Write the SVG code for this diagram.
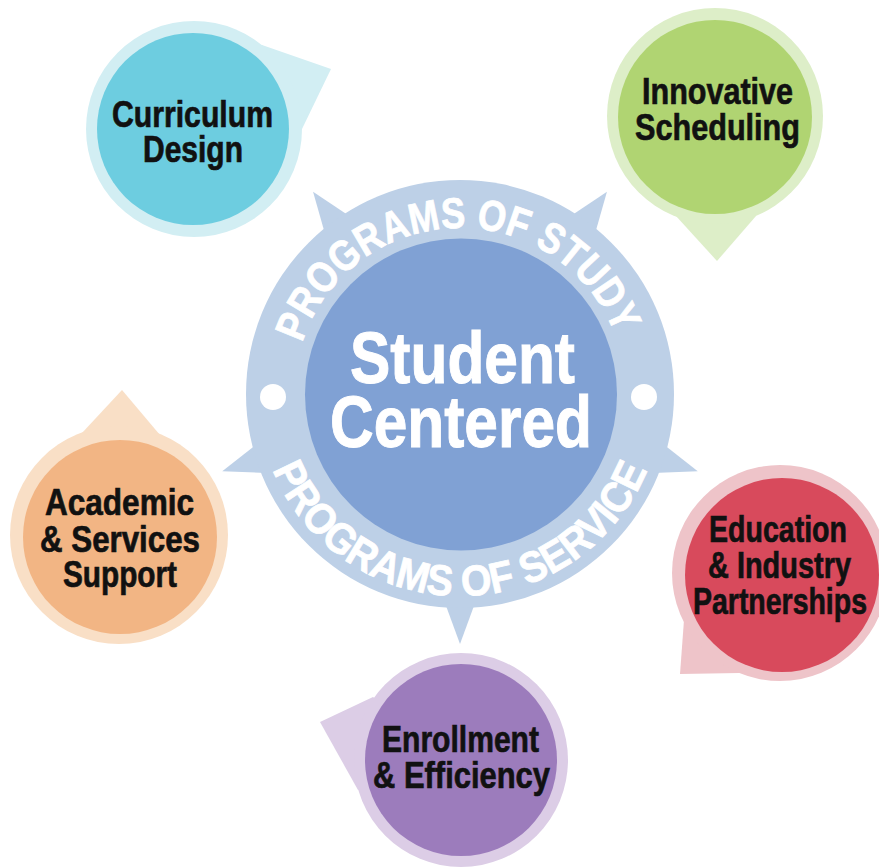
<svg xmlns="http://www.w3.org/2000/svg" width="879" height="868" viewBox="0 0 879 868">
<style>
.lbl{font-family:"Liberation Sans Narrow","Liberation Sans",Arial,sans-serif;font-weight:bold;font-size:37px;fill:#111;stroke:#111;stroke-width:0.7px;text-anchor:middle}
.big{font-family:"Liberation Sans Narrow","Liberation Sans",Arial,sans-serif;font-weight:bold;font-size:72px;fill:#fff;stroke:#fff;stroke-width:1px;text-anchor:middle}
.ring{font-family:"Liberation Sans Narrow","Liberation Sans",Arial,sans-serif;font-weight:bold;font-size:43px;fill:#fff;stroke:#fff;stroke-width:0.8px}
.rc{fill:#BDD0E7}
</style>
<defs>
<path id="topArc" d="M302.1,342.7 A166,166 0 0 1 615,334.5"/>
<path id="botArc" d="M272.7,469.7 A202,202 0 0 0 647.3,469.7"/>
<polygon id="spike" points="0,-250 22,-190 -22,-190"/>
</defs>
<rect width="879" height="868" fill="#fff"/>
<g id="center">
<g class="rc">
<use href="#spike" transform="translate(460,394) rotate(-36)"/>
<use href="#spike" transform="translate(460,394) rotate(36)"/>
<use href="#spike" transform="translate(460,394) rotate(108)"/>
<use href="#spike" transform="translate(460,394) rotate(180)"/>
<use href="#spike" transform="translate(460,394) rotate(252)"/>
</g>
<circle cx="460" cy="394" r="214" fill="#BDD0E7"/>
<circle cx="461" cy="394.5" r="156" fill="#80A1D4"/>
<circle cx="273" cy="397" r="13" fill="#fff"/>
<circle cx="644" cy="397" r="13" fill="#fff"/>
<text class="ring"><textPath href="#topArc" textLength="408" lengthAdjust="spacingAndGlyphs">PROGRAMS OF STUDY</textPath></text>
<text class="ring"><textPath href="#botArc" textLength="479" lengthAdjust="spacingAndGlyphs">PROGRAMS OF SERVICE</textPath></text>
<text class="big" x="462.5" y="383" textLength="225" lengthAdjust="spacingAndGlyphs">Student</text>
<text class="big" x="461" y="447" textLength="262" lengthAdjust="spacingAndGlyphs">Centered</text>
</g>
<g id="curriculum">
<polygon points="194,129 262,45 331,69 302,129" fill="#D2EEF3"/>
<circle cx="194" cy="129" r="108" fill="#D2EEF3"/>
<circle cx="193" cy="129" r="96" fill="#6DCDE0"/>
<text class="lbl" x="192.5" y="127" textLength="161" lengthAdjust="spacingAndGlyphs">Curriculum</text>
<text class="lbl" x="193" y="162" textLength="100" lengthAdjust="spacingAndGlyphs">Design</text>
</g>
<g id="innovative">
<polygon points="715,116 676,216 717,261 756,216" fill="#DDEEC8"/>
<circle cx="715" cy="116" r="108" fill="#DDEEC8"/>
<circle cx="715" cy="117" r="97" fill="#B0D472"/>
<text class="lbl" x="717.5" y="104" textLength="151" lengthAdjust="spacingAndGlyphs">Innovative</text>
<text class="lbl" x="717.5" y="140" textLength="165" lengthAdjust="spacingAndGlyphs">Scheduling</text>
</g>
<g id="academic">
<polygon points="119,535 82,433 122,390 160,435" fill="#F9DFC6"/>
<circle cx="119" cy="535" r="109" fill="#F9DFC6"/>
<circle cx="120" cy="537" r="97" fill="#F2B584"/>
<text class="lbl" x="119.5" y="515" textLength="149" lengthAdjust="spacingAndGlyphs">Academic</text>
<text class="lbl" x="120" y="552" textLength="160" lengthAdjust="spacingAndGlyphs">&amp; Services</text>
<text class="lbl" x="120" y="587" textLength="114" lengthAdjust="spacingAndGlyphs">Support</text>
</g>
<g id="education">
<polygon points="780,573 684,620 680,674 740,673" fill="#EEC4C9"/>
<circle cx="780" cy="573" r="108" fill="#EEC4C9"/>
<circle cx="782" cy="575" r="97" fill="#D84A5C"/>
<text class="lbl" x="778" y="542" textLength="138" lengthAdjust="spacingAndGlyphs">Education</text>
<text class="lbl" x="779.5" y="578" textLength="143" lengthAdjust="spacingAndGlyphs">&amp; Industry</text>
<text class="lbl" x="780" y="614" textLength="174" lengthAdjust="spacingAndGlyphs">Partnerships</text>
</g>
<g id="enrollment">
<polygon points="461,760 373,697 320,722 358,790" fill="#DCCDE6"/>
<circle cx="461" cy="760" r="107" fill="#DCCDE6"/>
<circle cx="461" cy="760" r="96" fill="#9C7CBC"/>
<text class="lbl" x="460.5" y="752" textLength="157" lengthAdjust="spacingAndGlyphs">Enrollment</text>
<text class="lbl" x="461.5" y="788" textLength="177" lengthAdjust="spacingAndGlyphs">&amp; Efficiency</text>
</g>
<g id="connectors"/>
</svg>
